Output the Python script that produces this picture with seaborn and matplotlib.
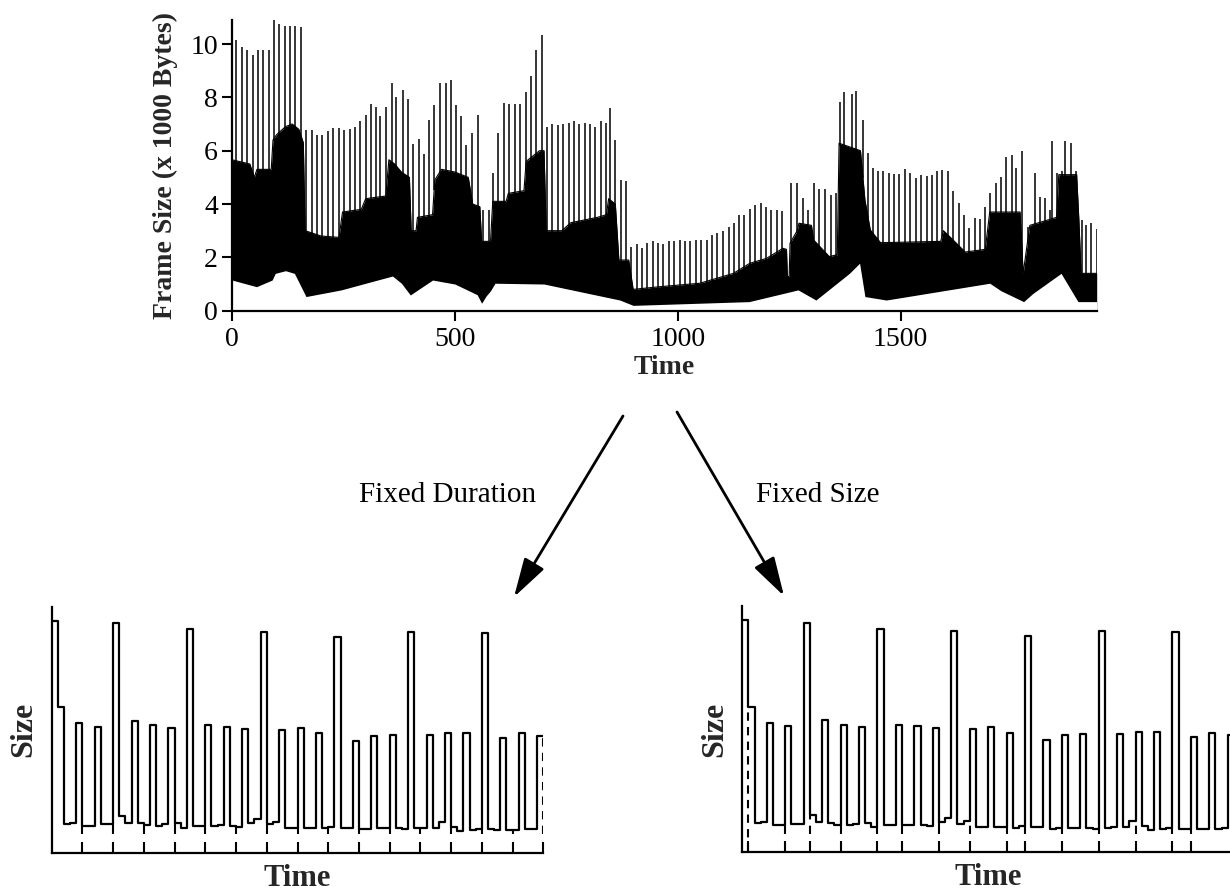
import numpy as np
import pandas as pd
import matplotlib
matplotlib.use("Agg")
import matplotlib.pyplot as plt
import seaborn as sns

# ---------------- top trace (frame sizes, x 1000 bytes) ----------------
peak_times = [1, 10, 22, 34, 48, 59, 70, 82, 95, 106, 119, 130, 142, 155,
              167, 179, 190, 203, 216, 227, 240, 252, 265, 276, 287, 300, 312, 323,
              333, 345, 358, 369, 383, 394, 407, 419, 431, 443, 454, 467, 479, 491,
              502, 514, 526, 539, 551, 564, 576, 586, 597, 610, 622, 635, 646, 659,
              671, 683, 695, 707, 719, 731, 743, 755, 767, 779, 791, 803, 815, 827,
              839, 848, 860, 872, 884, 896, 908, 920, 932, 944, 956, 968, 980, 992,
              1004, 1016, 1028, 1040, 1053, 1065, 1077, 1089, 1102, 1115, 1127, 1138,
              1149, 1162, 1173, 1186, 1198, 1209, 1222, 1235, 1255, 1268, 1282, 1293,
              1306, 1317, 1330, 1343, 1354, 1365, 1373, 1390, 1401, 1415, 1426, 1439,
              1450, 1461, 1474, 1485, 1497, 1510, 1521, 1534, 1546, 1559, 1570, 1581,
              1594, 1606, 1618, 1630, 1642, 1653, 1666, 1678, 1689, 1701, 1713, 1725,
              1736, 1749, 1760, 1773, 1785, 1801, 1812, 1824, 1835, 1839, 1850, 1863,
              1870, 1882, 1893, 1906, 1917, 1928, 1940]
peak_heights = [10.9, 10.16, 9.89, 9.79, 9.6, 9.79, 9.76, 9.76, 10.9, 10.75, 10.66, 10.66, 10.66, 10.64,
                6.78, 6.78, 6.6, 6.57, 6.72, 6.85, 6.85, 6.78, 6.8, 6.9, 7.1, 7.35, 7.76, 7.63,
                7.3, 7.63, 8.54, 8.03, 8.29, 7.93, 6.25, 6.43, 5.87, 7.16, 7.7, 8.54, 8.54, 8.66,
                7.72, 7.3, 6.22, 6.66, 7.35, 3.78, 3.78, 5.16, 6.66, 7.78, 7.76, 7.76, 7.75, 8.19,
                8.79, 9.79, 10.35, 6.9, 7.0, 6.95, 7.0, 7.05, 7.1, 7.0, 7.05, 7.0, 6.9, 7.1,
                7.05, 7.6, 6.4, 4.9, 4.85, 2.4, 2.5, 2.35, 2.55, 2.6, 2.55, 2.5, 2.6, 2.6,
                2.65, 2.6, 2.6, 2.65, 2.65, 2.65, 2.84, 2.9, 2.97, 3.12, 3.3, 3.59,
                3.59, 3.8, 3.96, 4.03, 3.9, 3.78, 3.78, 3.74, 4.78, 4.78, 4.22, 3.78,
                4.8, 4.56, 4.56, 4.34, 4.43, 7.81, 8.19, 8.12, 8.22, 7.16, 5.91, 5.34,
                5.22, 5.22, 5.16, 5.13, 5.13, 5.3, 5.18, 4.99, 5.09, 5.06, 5.09, 5.22,
                5.28, 5.22, 4.47, 4.03, 3.59, 3.09, 3.49, 3.43, 3.9, 4.41, 4.8, 5.03,
                5.78, 5.84, 5.34, 6.0, 3.15, 5.16, 4.28, 4.22, 3.78, 6.35, 5.16, 5.22,
                6.35, 6.29, 5.22, 3.4, 3.22, 3.28, 3.05]

upper_t = [0, 15, 40, 50, 56, 88, 92, 100, 120, 135, 150, 160, 164, 200, 240, 248,
           290, 300, 345, 352, 365, 380, 398, 402, 413, 416, 450, 455, 470, 500, 530,
           540, 556, 560, 580, 585, 615, 620, 655, 660, 690, 700, 705, 740, 760, 820,
           840, 845, 860, 868, 890, 900, 960, 1050, 1125, 1162, 1199, 1236, 1244,
           1246, 1250, 1252, 1268, 1272, 1300, 1305, 1340, 1358, 1362, 1410, 1420,
           1432, 1455, 1590, 1596, 1610, 1645, 1690, 1700, 1768, 1775, 1790, 1850,
           1855, 1895, 1900, 1905, 1940]
upper_v = [5.66, 5.6, 5.5, 5.0, 5.3, 5.3, 6.4, 6.6, 6.9, 7.0, 6.8, 6.3, 3.0, 2.8, 2.75, 3.7,
           3.8, 4.2, 4.3, 5.66, 5.5, 5.2, 5.0, 3.0, 3.0, 3.5, 3.6, 4.9, 5.3, 5.2, 5.0,
           4.0, 3.9, 2.6, 2.6, 4.1, 4.1, 4.4, 4.5, 5.6, 6.0, 6.0, 3.0, 3.0, 3.3, 3.5,
           3.6, 4.2, 4.0, 1.9, 1.9, 0.8, 0.9, 1.03, 1.4, 1.78, 1.96, 2.34, 2.3,
           1.28, 1.28, 2.53, 3.0, 3.28, 3.2, 2.65, 2.03, 2.1, 6.28, 6.0, 4.15,
           3.03, 2.55, 2.6, 3.0, 2.78, 2.2, 2.3, 3.7, 3.7, 1.4, 3.2, 3.5,
           5.1, 5.1, 3.4, 1.4, 1.4]

lower_t = [0, 55, 90, 97, 120, 140, 166, 245, 300, 360, 380, 400, 450, 500, 550, 560,
           570, 580, 590, 700, 870, 900, 1160, 1270, 1310, 1385, 1408, 1420, 1468,
           1700, 1725, 1776, 1797, 1860, 1898, 1940]
lower_v = [1.15, 0.9, 1.15, 1.4, 1.5, 1.4, 0.53, 0.78, 1.03, 1.3, 1.03, 0.59, 1.15, 1.0, 0.6, 0.28,
           0.55, 0.75, 1.03, 1.0, 0.4, 0.2, 0.34, 0.78, 0.4, 1.4, 1.78, 0.53, 0.4,
           1.03, 0.75, 0.34, 0.65, 1.4, 0.34, 0.34]

top_xticks = [0, 500, 1000, 1500]
top_yticks = [0, 2, 4, 6, 8, 10]

# ---------------- bottom panels: one stretch of frames ----------------
frame_sizes = [232, 145.3, 28.7, 30, 129.3, 26.7, 26.7, 126, 28.3, 28.3,
               229.3, 36.7, 30, 131.7, 29.3, 27.3, 127.3, 26.7, 28.3, 125, 29.3, 25,
               223.3, 26.7, 26.7, 127.3, 26.7, 27.3, 126, 26.7, 26, 123.7, 30, 34,
               221, 28.3, 31, 122.7, 25, 25, 125, 25, 25, 119.3, 24.3, 26,
               216, 25, 25, 111.7, 23.3, 24, 116.7, 24.3, 24.3, 117.7, 24.3, 23.3,
               221, 24.3, 25, 117.7, 25, 31, 120, 26, 22, 120, 22.7, 24,
               220, 23.3, 22.7, 115, 22.7, 22.7, 119.3, 23.3, 24, 117]
fixed_duration_bounds = [5, 10, 15, 20, 25, 30, 35, 40, 45, 50, 55, 60, 65, 70, 75, 80]
fixed_size_bounds = [1, 7, 11, 16, 22, 26, 32, 37, 43, 46, 52, 58, 64, 70, 73]
fixed_size_dashed = [1, 11, 37, 64]

# ---------------- style ----------------
sns.set_theme(style="ticks")
plt.rcParams["font.family"] = ["Liberation Serif", "DejaVu Serif"]
plt.rcParams["axes.linewidth"] = 1.6
plt.rcParams["axes.edgecolor"] = "black"
plt.rcParams["text.color"] = "black"

W, H = 1230.0, 892.0
fig = plt.figure(figsize=(12.3, 8.92), dpi=100)
fig.patch.set_facecolor("white")

# ---------- top panel ----------
ax = fig.add_axes([232 / W, (H - 310.7) / H, (1096.7 - 232) / W, (310.7 - 20) / H])
ax.set_facecolor("white")
ax.fill_between(upper_t, 0, upper_v, color="black", lw=0, zorder=1)
ax.fill_between(lower_t, 0, lower_v, color="white", lw=0, zorder=1.2)
top_df = pd.DataFrame({"t": upper_t, "v": upper_v})
sns.lineplot(data=top_df, x="t", y="v", ax=ax, color="black", lw=0.8, zorder=1.1)
pk_base = np.interp(peak_times, upper_t, upper_v) - 0.1
ax.vlines(peak_times, pk_base, peak_heights, color="black", lw=1.1, zorder=1.3)
ax.set_xlim(0, 1940)
ax.set_ylim(0, 10.9)
ax.set_xticks(top_xticks)
ax.set_yticks(top_yticks)
ax.tick_params(axis="both", direction="out", length=7, width=1.5, labelsize=20,
               colors="black", pad=3)
ax.tick_params(axis="x", pad=5)
sns.despine(ax=ax)
ax.set_xlabel("Time", fontsize=20, fontweight="bold", va="center")
ax.xaxis.set_label_coords(0.5, (310.7 - 367) / 290.7)
ax.set_ylabel("Frame Size (x 1000 Bytes)", fontsize=20, fontweight="bold", va="center")
ax.yaxis.set_label_coords((165 - 232) / 864.7, 0.5)

# ---------- bottom panels ----------
edges = list(range(len(frame_sizes) + 1))
step_vals = frame_sizes + [frame_sizes[-1]]
step_df = pd.DataFrame({"frame": edges, "size": step_vals})
marker_floor = 18.3


def draw_panel(axb, bounds, dashed):
    axb.set_facecolor("white")
    sns.lineplot(data=step_df, x="frame", y="size", ax=axb, color="black", lw=1.6,
                 drawstyle="steps-post", zorder=3)
    for b in bounds:
        if b < len(frame_sizes):
            top = min(frame_sizes[b - 1], frame_sizes[b])
        else:
            top = frame_sizes[-1]
        if b == 1:
            axb.vlines(b, 0, top, color="black", lw=1.5, linestyles=(0, (4, 3)), zorder=2)
        elif b in dashed or b == len(frame_sizes):
            axb.vlines(b, marker_floor, top, color="black", lw=1.5,
                       linestyles=(0, (4, 3)), zorder=2)
        else:
            axb.vlines(b, marker_floor, top, color="black", lw=1.5, zorder=2)
    axb.set_xlim(0, 80)
    axb.set_ylim(0, 246)
    axb.set_xticks(bounds)
    axb.set_xticklabels([])
    axb.set_yticks([])
    axb.tick_params(axis="x", direction="in", length=8, width=1.5, colors="black")
    sns.despine(ax=axb)
    axb.set_xlabel("Time", fontsize=22, fontweight="bold", va="center")
    axb.xaxis.set_label_coords(0.5, (852.7 - 878) / 246)
    axb.set_ylabel("Size", fontsize=23, fontweight="bold", va="center")
    axb.yaxis.set_label_coords(-0.057, 0.5)


ax_l = fig.add_axes([51.7 / W, (H - 852.7) / H, 491.6 / W, 246 / H])
draw_panel(ax_l, fixed_duration_bounds, [])
ax_r = fig.add_axes([742.3 / W, (H - 852.0) / H, 491.6 / W, 246 / H])
draw_panel(ax_r, fixed_size_bounds, fixed_size_dashed)

# ---------- arrows and captions ----------
arrow_kw = dict(arrowstyle="-|>,head_length=1.2,head_width=0.35", mutation_scale=20,
                color="black", lw=2, shrinkA=0, shrinkB=0)
fig.add_artist(matplotlib.patches.FancyArrowPatch(
    (623 / W, 1 - 416 / H), (514 / W, 1 - 597 / H), transform=fig.transFigure, **arrow_kw))
fig.add_artist(matplotlib.patches.FancyArrowPatch(
    (677 / W, 1 - 412 / H), (784 / W, 1 - 596 / H), transform=fig.transFigure, **arrow_kw))
fig.text(448 / W, 1 - 495 / H, "Fixed Duration", ha="center", va="center", fontsize=21)
fig.text(818 / W, 1 - 495 / H, "Fixed Size", ha="center", va="center", fontsize=21)

fig.savefig("out.png", dpi=100, facecolor="white")
